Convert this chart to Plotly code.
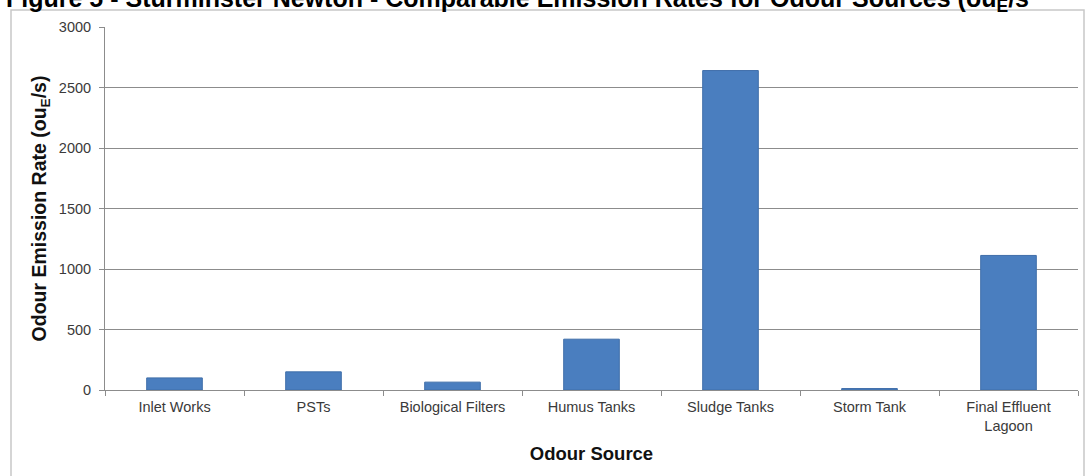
import plotly.graph_objects as go

categories = ["Inlet Works", "PSTs", "Biological Filters", "Humus Tanks",
              "Sludge Tanks", "Storm Tank", "Final Effluent<br>Lagoon"]
emission_rates = [100, 150, 65, 420, 2640, 12, 1112]
y_ticks = [0, 500, 1000, 1500, 2000, 2500, 3000]

title_text = ("Figure 5 - Sturminster Newton - Comparable Emission Rates for "
              "Odour Sources (ou<sub>E</sub>/s")

W, H = 1088, 476
L, R, T, B = 105, 10, 27, 86
pw, ph = W - L - R, H - T - B

def px(x):
    return (x - L) / pw

def py(y):
    return (H - B - y) / ph

fig = go.Figure()
fig.add_trace(go.Bar(
    x=categories, y=emission_rates,
    marker=dict(color="#4a7ebf", line=dict(color="#3f6ea9", width=1)),
    showlegend=False,
))

fig.update_layout(
    width=W, height=H,
    margin=dict(l=L, r=R, t=T, b=B),
    paper_bgcolor="white", plot_bgcolor="white",
    bargap=0.6,
    font=dict(family="Liberation Sans, Arial, sans-serif", color="#3a3a3a", size=13),
    xaxis=dict(
        type="category",
        showline=True, linecolor="#8c8c8c", linewidth=1,
        ticks="outside", tickson="boundaries", ticklen=5, tickcolor="#8c8c8c",
        showgrid=False,
        tickfont=dict(size=14.5, color="#3a3a3a"),
        ticklabelstandoff=4,
        title=dict(text="<b>Odour Source</b>", font=dict(size=18.5, color="#111111"), standoff=13),
    ),
    yaxis=dict(
        range=[0, 3000], tickvals=y_ticks,
        showline=True, linecolor="#8c8c8c", linewidth=1,
        ticks="outside", ticklen=5, tickcolor="#8c8c8c",
        showgrid=True, gridcolor="#8c8c8c", gridwidth=1,
        zeroline=False,
        tickfont=dict(size=14.5, color="#3a3a3a"),
        ticklabelstandoff=5,
        title=dict(text="<b>Odour Emission Rate (ou<sub>E</sub>/s)</b>",
                   font=dict(size=19.5, color="#111111"), standoff=7),
    ),
    shapes=[dict(type="rect", xref="paper", yref="paper",
                 x0=px(11), x1=px(1084), y0=py(480), y1=py(10),
                 line=dict(color="#c8c8c8", width=1.5), layer="below")],
    annotations=[dict(text="<b>" + title_text + "</b>", xref="paper", yref="paper",
                      x=px(4), y=1, xanchor="left", yanchor="bottom", yshift=9,
                      showarrow=False, font=dict(size=25, color="#000000"))],
)

fig.write_html("out.html")
